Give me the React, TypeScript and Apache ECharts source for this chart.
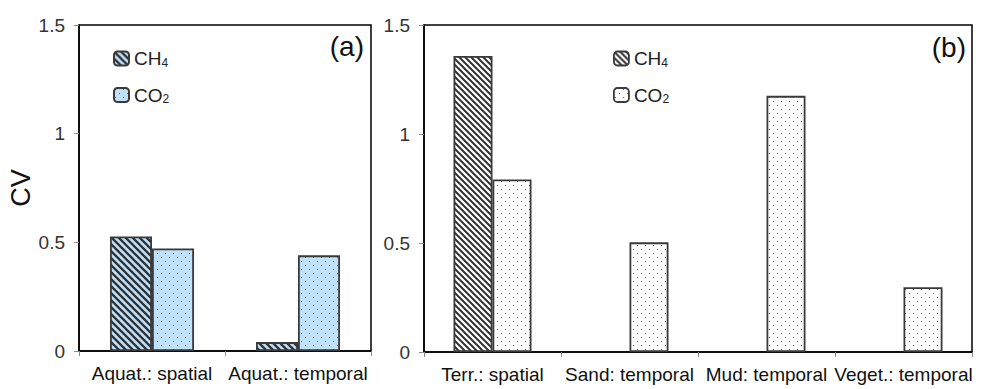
import React, { useEffect, useRef } from "react";
import * as echarts from "echarts";

const categoriesA = ["Aquat.: spatial", "Aquat.: temporal"];
const ch4A = [0.527, 0.041];
const co2A = [0.472, 0.44];

const categoriesB = ["Terr.: spatial", "Sand: temporal", "Mud: temporal", "Veget.: temporal"];
const ch4B = [1.358, null, null, null];
const co2B = [0.791, 0.503, 1.175, 0.297];

const yMin = 0;
const yMax = 1.5;
const yStep = 0.5;

const FONT = "'Liberation Sans', Arial, sans-serif";
const LIGHT_BLUE = "#bfe1fc";

function makeHatch(size: number, bg: string, line: string, lw: number) {
  const c = document.createElement("canvas");
  c.width = size;
  c.height = size;
  const g = c.getContext("2d")!;
  g.fillStyle = bg;
  g.fillRect(0, 0, size, size);
  g.strokeStyle = line;
  g.lineWidth = lw;
  g.beginPath();
  for (const o of [-size, 0, size]) {
    g.moveTo(o - 1, -1);
    g.lineTo(o + size + 1, size + 1);
  }
  g.stroke();
  return { image: c, repeat: "repeat", imageWidth: size, imageHeight: size };
}

function makeDots(size: number, bg: string, dot: string) {
  const c = document.createElement("canvas");
  c.width = size;
  c.height = size;
  const g = c.getContext("2d")!;
  g.fillStyle = bg;
  g.fillRect(0, 0, size, size);
  g.fillStyle = dot;
  g.fillRect(1, 1, 1, 1);
  g.fillRect(1 + size / 2, 1 + size / 2, 1, 1);
  return { image: c, repeat: "repeat", imageWidth: size, imageHeight: size };
}

export default function App() {
  const ref = useRef<HTMLDivElement>(null);

  useEffect(() => {
    if (!ref.current) return;
    const chart = echarts.init(ref.current, undefined, { renderer: "svg" });

    const hatchA = makeHatch(7, LIGHT_BLUE, "#333333", 2.3);
    const dotsA = makeDots(8, LIGHT_BLUE, "#5a6a7a");
    const hatchB = makeHatch(6, "#ffffff", "#333333", 2);
    const dotsB = makeDots(8, "#ffffff", "#555555");

    const border = { borderColor: "#3a3a3a", borderWidth: 1.8 };

    const legendText = {
      rich: {
        m: { fontSize: 19, fontFamily: FONT, color: "#222", lineHeight: 20, verticalAlign: "middle" },
        s: { fontSize: 12, fontFamily: FONT, color: "#222", lineHeight: 12, verticalAlign: "bottom" },
      },
    };
    const legendFormatter = (name: string) =>
      name === "CH4" ? "{m|CH}{s|4}" : "{m|CO}{s|2}";

    const yAxisBase = {
      type: "value",
      min: yMin,
      max: yMax,
      interval: yStep,
      splitLine: { show: false },
      axisLine: { show: true, lineStyle: { color: "#000", width: 1.5 } },
      axisTick: { show: true, length: 5, lineStyle: { color: "#888" } },
      axisLabel: { fontSize: 19, fontFamily: FONT, color: "#333", margin: 14 },
    };
    const xAxisBase = {
      type: "category",
      axisLine: { show: true, lineStyle: { color: "#000", width: 1.5 } },
      axisTick: { show: true, length: 5, alignWithLabel: false, lineStyle: { color: "#888" } },
      axisLabel: { fontSize: 19, fontFamily: FONT, color: "#111", margin: 13, interval: 0 },
    };

    chart.setOption({
      animation: false,
      backgroundColor: "#ffffff",
      grid: [
        { left: 79, right: 624, top: 25, bottom: 38, show: true, borderColor: "#000", borderWidth: 1.5 },
        { left: 424, right: 23, top: 25, bottom: 37, show: true, borderColor: "#000", borderWidth: 1.5 },
      ],
      xAxis: [
        { ...xAxisBase, gridIndex: 0, data: categoriesA },
        { ...xAxisBase, gridIndex: 1, data: categoriesB },
      ],
      yAxis: [
        {
          ...yAxisBase,
          gridIndex: 0,
          name: "CV",
          nameLocation: "middle",
          nameGap: 42,
          nameTextStyle: { fontSize: 27, fontFamily: FONT, color: "#111" },
        },
        { ...yAxisBase, gridIndex: 1 },
      ],
      legend: [
        {
          orient: "vertical",
          left: 108,
          top: 44,
          itemWidth: 15,
          itemHeight: 14,
          itemGap: 17,
          data: ["CH4", "CO2"],
          formatter: legendFormatter,
          textStyle: legendText,
          selectedMode: false,
        },
        {
          orient: "vertical",
          left: 608,
          top: 44,
          itemWidth: 15,
          itemHeight: 14,
          itemGap: 17,
          data: [
            { name: "CH4", itemStyle: { color: hatchB, ...border } },
            { name: "CO2", itemStyle: { color: dotsB, ...border } },
          ],
          formatter: legendFormatter,
          textStyle: legendText,
          selectedMode: false,
        },
      ],
      graphic: [
        {
          type: "text",
          x: 364,
          y: 46,
          style: { text: "(a)", font: `28px ${FONT}`, fill: "#111", align: "right", verticalAlign: "middle" },
        },
        {
          type: "text",
          x: 966,
          y: 47,
          style: { text: "(b)", font: `28px ${FONT}`, fill: "#111", align: "right", verticalAlign: "middle" },
        },
      ],
      series: [
        {
          name: "CH4",
          type: "bar",
          xAxisIndex: 0,
          yAxisIndex: 0,
          data: ch4A,
          barWidth: 42,
          barGap: "0%",
          itemStyle: { color: hatchA, ...border },
        },
        {
          name: "CO2",
          type: "bar",
          xAxisIndex: 0,
          yAxisIndex: 0,
          data: co2A,
          barWidth: 42,
          barGap: "0%",
          itemStyle: { color: dotsA, ...border },
        },
        {
          name: "CH4",
          type: "bar",
          xAxisIndex: 1,
          yAxisIndex: 1,
          data: ch4B,
          barWidth: 39,
          barGap: "0%",
          itemStyle: { color: hatchB, ...border },
        },
        {
          name: "CO2",
          type: "bar",
          xAxisIndex: 1,
          yAxisIndex: 1,
          data: co2B,
          barWidth: 39,
          barGap: "0%",
          itemStyle: { color: dotsB, ...border },
        },
      ],
    });

    return () => chart.dispose();
  }, []);

  return (
    <div
      ref={ref}
      style={{ position: "fixed", left: 0, top: 0, width: 995, height: 389, background: "#fff" }}
    />
  );
}
